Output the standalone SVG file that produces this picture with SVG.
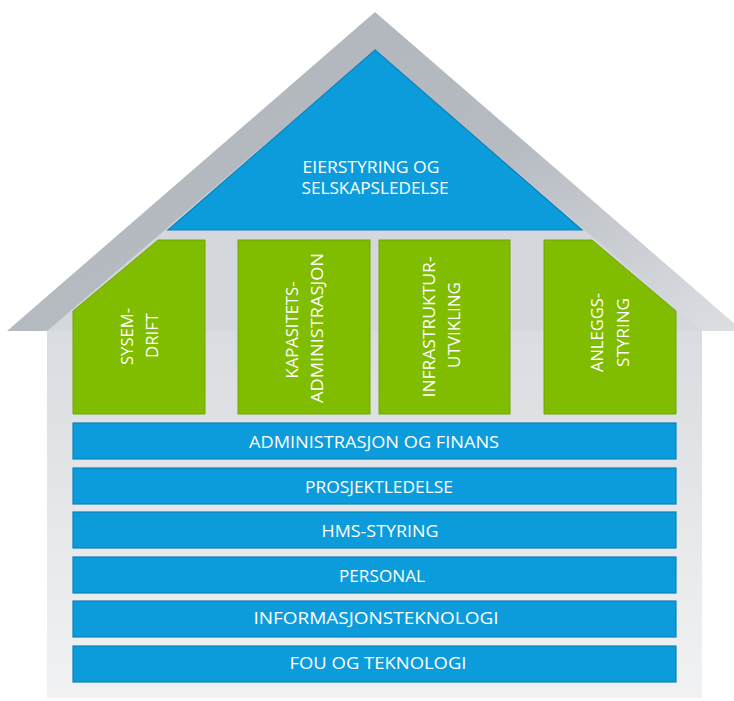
<svg xmlns="http://www.w3.org/2000/svg" width="734" height="701" viewBox="0 0 734 701">
  <defs>
    <linearGradient id="roofG" x1="0" y1="0" x2="1" y2="1">
      <stop offset="0" stop-color="#b0b5bc"/>
      <stop offset="0.55" stop-color="#b6bbc2"/>
      <stop offset="1" stop-color="#dcdfe2"/>
    </linearGradient>
    <linearGradient id="wallG" x1="0" y1="0" x2="0" y2="1">
      <stop offset="0" stop-color="#d9dce0"/>
      <stop offset="1" stop-color="#f1f2f3"/>
    </linearGradient>
  </defs>
  <style>
    .blue { fill: #0c9cdc; stroke: #0a82bb; stroke-width: 1.2; }
    .green { fill: #80bc00; stroke: #71a800; stroke-width: 1; }
    .lbl { font-family: "Open Sans", "Liberation Sans", sans-serif; font-size: 16px; font-weight: 500; fill: #ffffff; text-anchor: middle; }
  </style>
  <rect width="734" height="701" fill="#ffffff"/>

  <g id="house">
    <polygon points="375,12 743,331 7,331" fill="url(#roofG)"/>
    <polygon points="375,50 702,331 47,331" fill="#d4d7db"/>
    <rect x="47" y="331" width="655" height="367" fill="url(#wallG)"/>
  </g>

  <g id="roof-node">
    <polygon class="blue" points="375,50 582,230 168,230"/>
    <text class="lbl" x="371" y="173" textLength="137" lengthAdjust="spacingAndGlyphs">EIERSTYRING OG</text>
    <text class="lbl" x="375" y="194" textLength="147" lengthAdjust="spacingAndGlyphs">SELSKAPSLEDELSE</text>
  </g>

  <g id="pillar-1">
    <polygon class="green" points="158,240 205,240 205,414 73,414 73,311"/>
    <text class="lbl" transform="translate(133,336.5) rotate(-90)" textLength="57" lengthAdjust="spacingAndGlyphs">SYSEM-</text>
    <text class="lbl" transform="translate(158,335.5) rotate(-90)" textLength="45" lengthAdjust="spacingAndGlyphs">DRIFT</text>
  </g>
  <g id="pillar-2">
    <rect class="green" x="238" y="240" width="132" height="174"/>
    <text class="lbl" transform="translate(298,330) rotate(-90)" textLength="97" lengthAdjust="spacingAndGlyphs">KAPASITETS-</text>
    <text class="lbl" transform="translate(323,328) rotate(-90)" textLength="150" lengthAdjust="spacingAndGlyphs">ADMINISTRASJON</text>
  </g>
  <g id="pillar-3">
    <rect class="green" x="379" y="240" width="131" height="174"/>
    <text class="lbl" transform="translate(435,327) rotate(-90)" textLength="141" lengthAdjust="spacingAndGlyphs">INFRASTRUKTUR-</text>
    <text class="lbl" transform="translate(460,325) rotate(-90)" textLength="86" lengthAdjust="spacingAndGlyphs">UTVIKLING</text>
  </g>
  <g id="pillar-4">
    <polygon class="green" points="544,240 592,240 676,311 676,414 544,414"/>
    <text class="lbl" transform="translate(603,332.5) rotate(-90)" textLength="79" lengthAdjust="spacingAndGlyphs">ANLEGGS-</text>
    <text class="lbl" transform="translate(629,332.5) rotate(-90)" textLength="69" lengthAdjust="spacingAndGlyphs">STYRING</text>
  </g>

  <g id="bar-1">
    <rect class="blue" x="73" y="423" width="603" height="36"/>
    <text class="lbl" x="374" y="448" textLength="250" lengthAdjust="spacingAndGlyphs">ADMINISTRASJON OG FINANS</text>
  </g>
  <g id="bar-2">
    <rect class="blue" x="73" y="468" width="603" height="36"/>
    <text class="lbl" x="379" y="493" textLength="148" lengthAdjust="spacingAndGlyphs">PROSJEKTLEDELSE</text>
  </g>
  <g id="bar-3">
    <rect class="blue" x="73" y="512" width="603" height="36"/>
    <text class="lbl" x="380" y="537" textLength="117" lengthAdjust="spacingAndGlyphs">HMS-STYRING</text>
  </g>
  <g id="bar-4">
    <rect class="blue" x="73" y="557" width="603" height="36"/>
    <text class="lbl" x="382" y="582" textLength="86" lengthAdjust="spacingAndGlyphs">PERSONAL</text>
  </g>
  <g id="bar-5">
    <rect class="blue" x="73" y="601" width="603" height="36"/>
    <text class="lbl" x="376" y="624" textLength="245" lengthAdjust="spacingAndGlyphs">INFORMASJONSTEKNOLOGI</text>
  </g>
  <g id="bar-6">
    <rect class="blue" x="73" y="646" width="603" height="36"/>
    <text class="lbl" x="378" y="669" textLength="177" lengthAdjust="spacingAndGlyphs">FOU OG TEKNOLOGI</text>
  </g>

  <g id="connectors"></g>
</svg>
